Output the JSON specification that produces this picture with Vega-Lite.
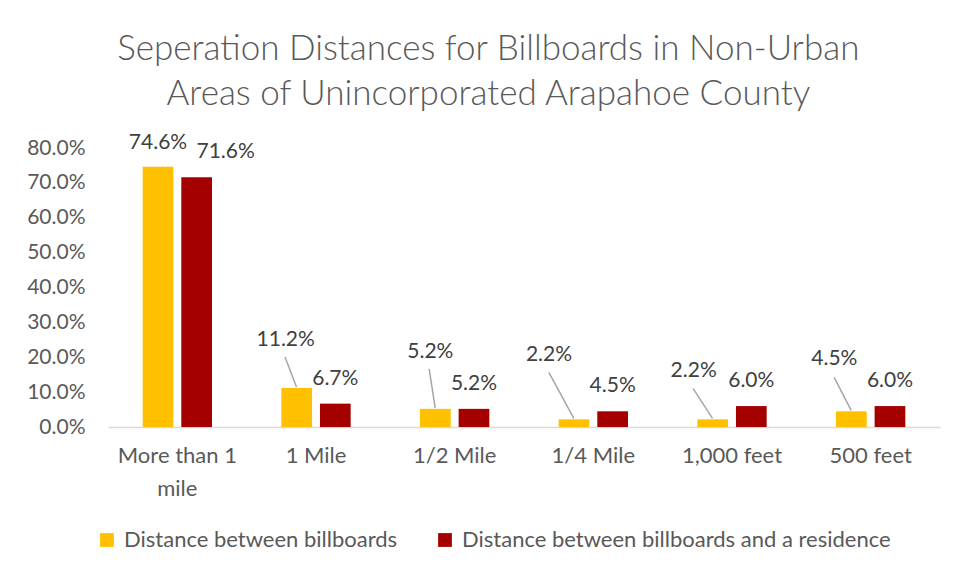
{
  "$schema": "https://vega.github.io/schema/vega-lite/v6.json",
  "width": 832,
  "height": 279,
  "autosize": {"type": "none"},
  "padding": {"left": 108, "top": 148, "right": 18, "bottom": 146},
  "background": "white",
  "title": {
    "text": ["Seperation Distances for Billboards in Non-Urban", "Areas of Unincorporated Arapahoe County"],
    "font": "Lato",
    "fontSize": 35,
    "fontWeight": 300,
    "color": "#595959",
    "lineHeight": 45,
    "anchor": "middle",
    "frame": "bounds",
    "offset": 20,
    "dx": 5
  },
  "config": {
    "view": {"stroke": null},
    "font": "Lato",
    "axis": {"labelFont": "Lato", "labelColor": "#595959", "labelFontSize": 21}
  },
  "data": {
    "values": [
      {"category": "More than 1 mile", "series": "Distance between billboards", "value": 0.746},
      {"category": "More than 1 mile", "series": "Distance between billboards and a residence", "value": 0.716},
      {"category": "1 Mile", "series": "Distance between billboards", "value": 0.112},
      {"category": "1 Mile", "series": "Distance between billboards and a residence", "value": 0.067},
      {"category": "1/2 Mile", "series": "Distance between billboards", "value": 0.052},
      {"category": "1/2 Mile", "series": "Distance between billboards and a residence", "value": 0.052},
      {"category": "1/4 Mile", "series": "Distance between billboards", "value": 0.022},
      {"category": "1/4 Mile", "series": "Distance between billboards and a residence", "value": 0.045},
      {"category": "1,000 feet", "series": "Distance between billboards", "value": 0.022},
      {"category": "1,000 feet", "series": "Distance between billboards and a residence", "value": 0.06},
      {"category": "500 feet", "series": "Distance between billboards", "value": 0.045},
      {"category": "500 feet", "series": "Distance between billboards and a residence", "value": 0.06}
    ]
  },
  "encoding": {
    "x": {
      "field": "category",
      "type": "nominal",
      "sort": null,
      "scale": {"paddingInner": 0.5, "paddingOuter": 0.25},
      "axis": {
        "title": null,
        "labelAngle": 0,
        "ticks": false,
        "domainColor": "#D9D9D9",
        "domainWidth": 1.5,
        "labelPadding": 18,
        "labelFontSize": 22,
        "labelLineHeight": 33,
        "labelExpr": "datum.label == 'More than 1 mile' ? ['More than 1', 'mile'] : datum.label"
      }
    },
    "y": {
      "field": "value",
      "type": "quantitative",
      "scale": {"domain": [0, 0.8]},
      "axis": {
        "title": null,
        "format": ".1%",
        "values": [0, 0.1, 0.2, 0.3, 0.4, 0.5, 0.6, 0.7, 0.8],
        "labelOverlap": false,
        "grid": false,
        "domain": false,
        "ticks": false,
        "labelPadding": 23
      }
    }
  },
  "layer": [
    {
      "mark": {"type": "bar"},
      "encoding": {
        "xOffset": {
          "field": "series",
          "type": "nominal",
          "sort": null,
          "scale": {"paddingInner": 0.205, "paddingOuter": 0}
        },
        "color": {
          "field": "series",
          "type": "nominal",
          "sort": null,
          "scale": {"range": ["#FFC000", "#A50000"]},
          "legend": {
            "title": null,
            "orient": "none",
            "direction": "horizontal",
            "legendX": -12,
            "legendY": 381,
            "symbolType": "square",
            "symbolSize": 190,
            "symbolStrokeWidth": 0,
            "labelFont": "Lato",
            "labelFontSize": 22,
            "labelColor": "#595959",
            "labelOffset": 6,
            "columnPadding": 36,
            "labelLimit": 500
          }
        }
      }
    },
    {
      "transform": [{"filter": "datum.series == 'Distance between billboards and a residence' && datum.category != 'More than 1 mile'"}],
      "mark": {"type": "text", "font": "Lato", "fontSize": 21, "color": "#404040", "baseline": "middle", "dy": -25},
      "encoding": {
        "xOffset": {"field": "series", "type": "nominal", "sort": null},
        "text": {"field": "value", "type": "quantitative", "format": ".1%"}
      }
    },
    {
      "transform": [{"filter": "datum.series == 'Distance between billboards and a residence' && datum.category == 'More than 1 mile'"}],
      "mark": {"type": "text", "font": "Lato", "fontSize": 21, "color": "#404040", "baseline": "middle", "dy": -25, "dx": 29},
      "encoding": {
        "xOffset": {"field": "series", "type": "nominal", "sort": null},
        "text": {"field": "value", "type": "quantitative", "format": ".1%"}
      }
    },
    {
      "transform": [{"filter": "datum.series == 'Distance between billboards' && datum.category == 'More than 1 mile'"}],
      "mark": {"type": "text", "font": "Lato", "fontSize": 21, "color": "#404040", "baseline": "middle", "dy": -24},
      "encoding": {
        "xOffset": {"field": "series", "type": "nominal", "sort": null},
        "text": {"field": "value", "type": "quantitative", "format": ".1%"}
      }
    },
    {
      "transform": [{"filter": "datum.series == 'Distance between billboards' && datum.category == '1 Mile'"}],
      "mark": {"type": "text", "font": "Lato", "fontSize": 21, "color": "#404040", "baseline": "middle", "dy": -48, "dx": -11},
      "encoding": {
        "xOffset": {"field": "series", "type": "nominal", "sort": null},
        "text": {"field": "value", "type": "quantitative", "format": ".1%"}
      }
    },
    {
      "transform": [{"filter": "datum.series == 'Distance between billboards' && datum.category == '1/2 Mile'"}],
      "mark": {"type": "text", "font": "Lato", "fontSize": 21, "color": "#404040", "baseline": "middle", "dy": -57, "dx": -5},
      "encoding": {
        "xOffset": {"field": "series", "type": "nominal", "sort": null},
        "text": {"field": "value", "type": "quantitative", "format": ".1%"}
      }
    },
    {
      "transform": [{"filter": "datum.series == 'Distance between billboards' && datum.category == '1/4 Mile'"}],
      "mark": {"type": "text", "font": "Lato", "fontSize": 21, "color": "#404040", "baseline": "middle", "dy": -64, "dx": -25},
      "encoding": {
        "xOffset": {"field": "series", "type": "nominal", "sort": null},
        "text": {"field": "value", "type": "quantitative", "format": ".1%"}
      }
    },
    {
      "transform": [{"filter": "datum.series == 'Distance between billboards' && datum.category == '1,000 feet'"}],
      "mark": {"type": "text", "font": "Lato", "fontSize": 21, "color": "#404040", "baseline": "middle", "dy": -48, "dx": -19},
      "encoding": {
        "xOffset": {"field": "series", "type": "nominal", "sort": null},
        "text": {"field": "value", "type": "quantitative", "format": ".1%"}
      }
    },
    {
      "transform": [{"filter": "datum.series == 'Distance between billboards' && datum.category == '500 feet'"}],
      "mark": {"type": "text", "font": "Lato", "fontSize": 21, "color": "#404040", "baseline": "middle", "dy": -52, "dx": -17},
      "encoding": {
        "xOffset": {"field": "series", "type": "nominal", "sort": null},
        "text": {"field": "value", "type": "quantitative", "format": ".1%"}
      }
    },
    {
      "transform": [{"filter": "datum.series == 'Distance between billboards' && datum.category == '1 Mile'"}],
      "mark": {"type": "rule", "color": "#A6A6A6", "strokeWidth": 1.5, "xOffset": -19.5, "yOffset": -1, "x2Offset": -31, "y2Offset": -31},
      "encoding": {"x2": {"field": "category"}, "y2": {"field": "value"}}
    },
    {
      "transform": [{"filter": "datum.series == 'Distance between billboards' && datum.category == '1/2 Mile'"}],
      "mark": {"type": "rule", "color": "#A6A6A6", "strokeWidth": 1.5, "xOffset": -19.5, "yOffset": -1, "x2Offset": -25.5, "y2Offset": -40},
      "encoding": {"x2": {"field": "category"}, "y2": {"field": "value"}}
    },
    {
      "transform": [{"filter": "datum.series == 'Distance between billboards' && datum.category == '1/4 Mile'"}],
      "mark": {"type": "rule", "color": "#A6A6A6", "strokeWidth": 1.5, "xOffset": -19.5, "yOffset": -1, "x2Offset": -44.5, "y2Offset": -47},
      "encoding": {"x2": {"field": "category"}, "y2": {"field": "value"}}
    },
    {
      "transform": [{"filter": "datum.series == 'Distance between billboards' && datum.category == '1,000 feet'"}],
      "mark": {"type": "rule", "color": "#A6A6A6", "strokeWidth": 1.5, "xOffset": -19.5, "yOffset": -1, "x2Offset": -39, "y2Offset": -31},
      "encoding": {"x2": {"field": "category"}, "y2": {"field": "value"}}
    },
    {
      "transform": [{"filter": "datum.series == 'Distance between billboards' && datum.category == '500 feet'"}],
      "mark": {"type": "rule", "color": "#A6A6A6", "strokeWidth": 1.5, "xOffset": -19.5, "yOffset": -1, "x2Offset": -36.5, "y2Offset": -34},
      "encoding": {"x2": {"field": "category"}, "y2": {"field": "value"}}
    }
  ]
}
